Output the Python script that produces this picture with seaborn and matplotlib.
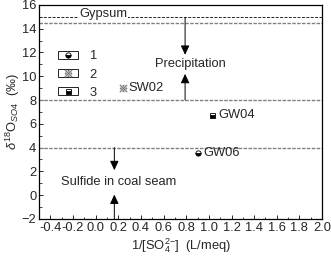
import numpy as np
import pandas as pd
import matplotlib
matplotlib.use("Agg")
import matplotlib.pyplot as plt
from matplotlib.patches import Rectangle
from matplotlib.lines import Line2D
from matplotlib.legend_handler import HandlerBase
from matplotlib.ticker import MultipleLocator
import seaborn as sns

# data
samples = ["GW06", "SW02", "GW04"]
groups = ["1", "2", "3"]
inv_so4 = [0.90, 0.24, 1.03]
d18o = [3.55, 9.0, 6.75]

# reference lines (gypsum / precipitation / sulfide ranges)
gypsum_y = 15.0
ref_lines = [14.45, 8.0, 4.0]

df = pd.DataFrame({"sample": samples, "group": groups, "x": inv_so4, "y": d18o})

sns.set_theme(style="ticks")
plt.rcParams["font.family"] = ["Liberation Sans", "DejaVu Sans"]
plt.rcParams["mathtext.fontset"] = "custom"
plt.rcParams["mathtext.rm"] = "Liberation Sans"
plt.rcParams["mathtext.it"] = "Liberation Sans:italic"
FS = 9.3

marker_style = {
    "1": dict(marker="o", fillstyle="bottom", markersize=3.8, color="black",
              markeredgecolor="black", markerfacecoloralt="white",
              markeredgewidth=0.6),
    "2": dict(marker="$\u203b$", markersize=5.5, color="0.45",
              markeredgecolor="0.45", markeredgewidth=0.2),
    "3": dict(marker="s", fillstyle="bottom", markersize=3.6, color="black",
              markeredgecolor="black", markerfacecoloralt="white",
              markeredgewidth=0.6),
}


class BoxMarker(HandlerBase):
    """legend entry: small framed box with the marker in the middle"""
    def create_artists(self, legend, orig_handle, xdescent, ydescent,
                       width, height, fontsize, trans):
        rect = Rectangle((-xdescent, -ydescent), width, height,
                         facecolor="white", edgecolor="black", lw=0.6,
                         transform=trans)
        mk = Line2D([-xdescent + width / 2], [-ydescent + height / 2],
                    linestyle="none", transform=trans,
                    **marker_style[orig_handle])
        return [rect, mk]


fig = plt.figure(figsize=(3.31, 2.57), dpi=100)
ax = fig.add_axes([0.118, 0.148, 0.855, 0.833])

for _, row in df.iterrows():
    sns.lineplot(x=[row["x"]], y=[row["y"]], ax=ax, linestyle="none",
                 **marker_style[row["group"]])
    ax.text(row["x"] + 0.05, row["y"], row["sample"], va="center", ha="left",
            fontsize=FS)

# horizontal reference lines
ax.axhline(gypsum_y, color="0.15", lw=0.7, ls=(0, (3, 1.5)), zorder=1)
for yv in ref_lines:
    ax.axhline(yv, color="0.5", lw=1.0, ls=(0, (2.5, 1)), zorder=1)

ax.text(0.07, gypsum_y + 0.25, "Gypsum", ha="center", va="center",
        fontsize=FS, bbox=dict(facecolor="white", edgecolor="none", pad=0.5),
        zorder=3)

arrow_kw = dict(arrowstyle="-|>,head_length=0.6,head_width=0.28",
                color="black", lw=0.7, shrinkA=0, shrinkB=0)
ax.annotate("", xy=(0.79, 11.8), xytext=(0.79, 14.95), arrowprops=arrow_kw,
            fontsize=FS)
ax.annotate("", xy=(0.79, 10.2), xytext=(0.79, 8.0), arrowprops=arrow_kw,
            fontsize=FS)
ax.text(0.84, 11.05, "Precipitation", ha="center", va="center", fontsize=FS)

ax.annotate("", xy=(0.165, 2.1), xytext=(0.165, 4.0), arrowprops=arrow_kw,
            fontsize=FS)
ax.annotate("", xy=(0.165, 0.05), xytext=(0.165, -2.0), arrowprops=arrow_kw,
            fontsize=FS)
ax.text(0.2, 1.1, "Sulfide in coal seam", ha="center", va="center", fontsize=FS)

# legend with framed symbols
ax.legend(groups, groups, handler_map={str: BoxMarker()},
          loc="upper left", bbox_to_anchor=(0.067, 0.787), frameon=False,
          handlelength=1.55, handleheight=0.55, labelspacing=0.47,
          handletextpad=0.9, fontsize=FS, borderpad=0, borderaxespad=0)

ax.set_xlim(-0.5, 2.0)
ax.set_ylim(-2, 16)
ax.xaxis.set_minor_locator(MultipleLocator(0.1))
ax.yaxis.set_major_locator(MultipleLocator(2))
ax.yaxis.set_minor_locator(MultipleLocator(1))
xt = np.round(np.arange(-0.4, 2.01, 0.2), 1)
ax.set_xticks(xt)
ax.set_xticklabels([f"{v:.1f}" for v in xt])
ax.tick_params(axis="both", which="major", direction="in", length=3,
               width=0.7, labelsize=FS, pad=2)
ax.tick_params(axis="both", which="minor", direction="in", length=1.8, width=0.6)
for s in ax.spines.values():
    s.set_linewidth(0.9)
    s.set_color("black")

ax.set_xlabel(r"1/[SO$_4^{2\mathrm{-}}$]  (L/meq)", fontsize=FS, labelpad=2)
ax.set_ylabel(r"$\delta^{18}$O$_{SO4}$  (‰)", fontsize=FS, labelpad=0)

fig.savefig("out.png", dpi=100)
